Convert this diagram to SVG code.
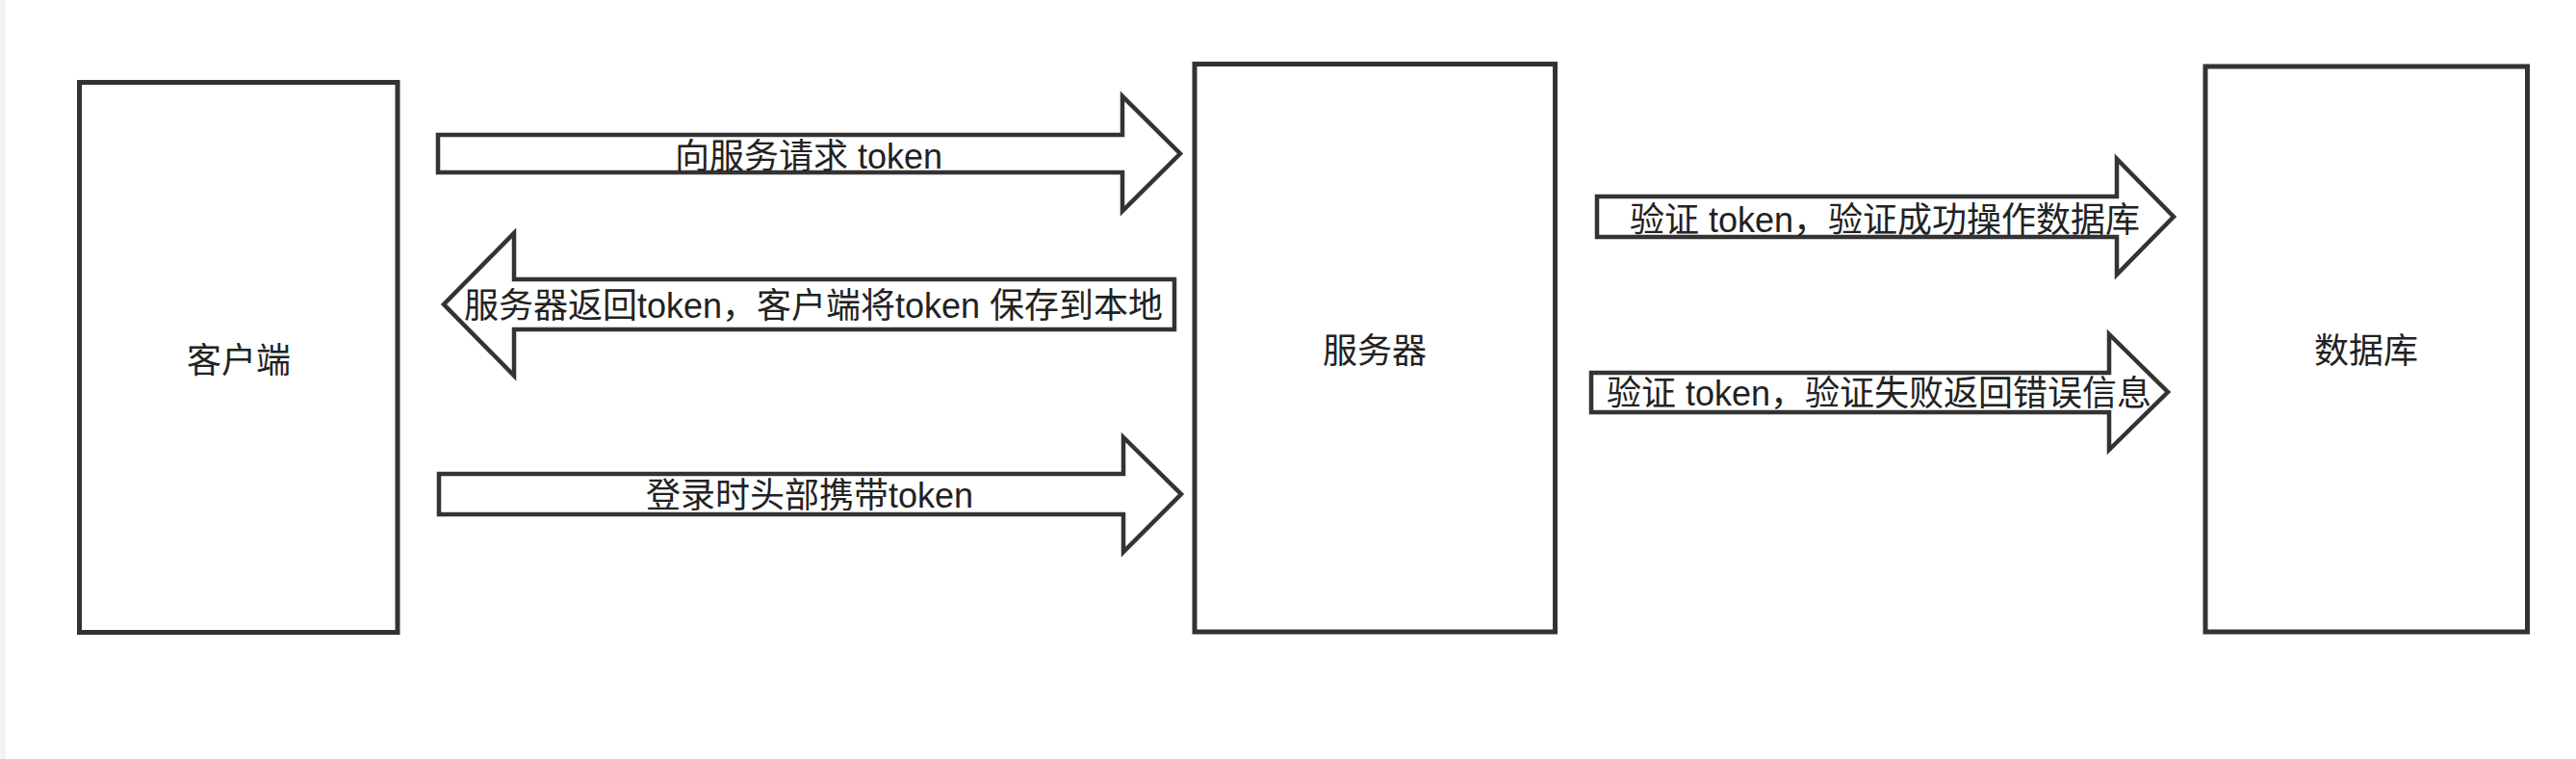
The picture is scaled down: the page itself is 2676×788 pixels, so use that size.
<svg xmlns="http://www.w3.org/2000/svg" width="2676" height="788" viewBox="0 0 2676 788">
<style>
.box{fill:#fff;stroke:#333;stroke-width:5}
.arr{fill:#fff;stroke:#333;stroke-width:4.5;stroke-linejoin:miter}
text{font-family:"Liberation Sans","Noto Sans CJK SC",sans-serif;font-size:36px;fill:#222;text-anchor:middle}
</style>
<rect x="0" y="0" width="2676" height="788" fill="#fff"/>
<rect x="0" y="0" width="6" height="788" fill="#f2f2f2"/>
<g id="client"><rect class="box" x="82.5" y="85.5" width="330.5" height="571"/><text x="248" y="387">客户端</text></g>
<g id="server"><rect class="box" x="1241" y="66.5" width="374.5" height="589.5"/><text x="1428" y="377">服务器</text></g>
<g id="database"><rect class="box" x="2291" y="69" width="334.5" height="587"/><text x="2458" y="377">数据库</text></g>
<g id="connectors">
<g id="c1"><polygon class="arr" points="455,140 1166,140 1166,100 1226,159.5 1166,219 1166,179 455,179"/><text x="840" y="175">向服务请求 token</text></g>
<g id="c2"><polygon class="arr" points="1220,290 534,290 534,242 461,316 534,390 534,342 1220,342"/><text x="845" y="330">服务器返回token，客户端将token 保存到本地</text></g>
<g id="c3"><polygon class="arr" points="456,492 1167,492 1167,454 1227,513 1167,573 1167,534 456,534"/><text x="841" y="527">登录时头部携带token</text></g>
<g id="c4"><polygon class="arr" points="1659,204 2199,204 2199,165 2258,225 2199,285 2199,246 1659,246"/><text x="1958" y="241">验证 token，验证成功操作数据库</text></g>
<g id="c5"><polygon class="arr" points="1653,387 2191,387 2191,347 2252,407 2191,467 2191,428 1653,428"/><text x="1952" y="421">验证 token，验证失败返回错误信息</text></g>
</g>
</svg>
